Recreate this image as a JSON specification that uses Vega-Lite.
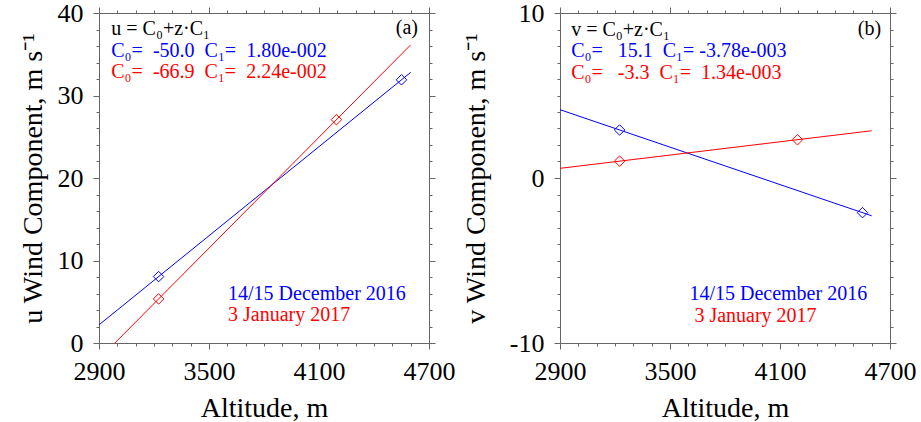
{
  "$schema": "https://vega.github.io/schema/vega-lite/v6.json",
  "background": "white",
  "padding": {"left": 19, "top": 0, "right": 5, "bottom": 0},
  "spacing": 7,
  "config": {
    "view": {"stroke": null},
    "axis": {
      "domainColor": "#666666", "tickColor": "#666666", "grid": false,
      "labelFont": "Liberation Serif", "labelFontSize": 26, "labelColor": "#000000",
      "titleFont": "Liberation Serif", "titleFontSize": 28, "titleFontWeight": "normal", "titleColor": "#000000",
      "labelOverlap": false, "labelFlush": false, "labelBound": false
    },
    "text": {"font": "Liberation Serif", "fontSize": 20}
  },
  "datasets": {
    "uFit": [
      {"date": "14/15 December 2016", "alt": 2900, "u": 2.2},
      {"date": "14/15 December 2016", "alt": 4600, "u": 32.8},
      {"date": "3 January 2017", "alt": 2900, "u": -1.94},
      {"date": "3 January 2017", "alt": 4600, "u": 36.14}
    ],
    "uPts": [
      {"date": "14/15 December 2016", "alt": 3225, "u": 8.05},
      {"date": "14/15 December 2016", "alt": 4550, "u": 31.9},
      {"date": "3 January 2017", "alt": 3225, "u": 5.34},
      {"date": "3 January 2017", "alt": 4195, "u": 27.07}
    ],
    "vFit": [
      {"date": "14/15 December 2016", "alt": 2900, "v": 4.14},
      {"date": "14/15 December 2016", "alt": 4600, "v": -2.29},
      {"date": "3 January 2017", "alt": 2900, "v": 0.586},
      {"date": "3 January 2017", "alt": 4600, "v": 2.864}
    ],
    "vPts": [
      {"date": "14/15 December 2016", "alt": 3225, "v": 2.91},
      {"date": "14/15 December 2016", "alt": 4550, "v": -2.1},
      {"date": "3 January 2017", "alt": 3225, "v": 1.02},
      {"date": "3 January 2017", "alt": 4195, "v": 2.32}
    ],
    "one": [{}]
  },
  "hconcat": [
    {
      "width": 330, "height": 330,
      "resolve": {"axis": {"x": "independent", "y": "independent"}},
      "layer": [
        {
          "data": {"name": "uFit"},
          "mark": {"type": "line", "clip": true, "strokeWidth": 1},
          "encoding": {
            "x": {"field": "alt", "type": "quantitative",
              "scale": {"domain": [2900, 4700], "nice": false},
              "axis": {"orient": "bottom", "title": "Altitude, m", "values": [2900,3000,3100,3200,3300,3400,3500,3600,3700,3800,3900,4000,4100,4200,4300,4400,4500,4600,4700],
                "labelExpr": "(datum.value - 2900) % 600 === 0 ? '' + datum.value : ''",
                "tickSize": {"condition": {"test": "(datum.value - 2900) % 600 === 0", "value": 6}, "value": 3},
                "labelPadding": 9.5, "titlePadding": 10}},
            "y": {"field": "u", "type": "quantitative",
              "scale": {"domain": [0, 40], "nice": false},
              "axis": {"orient": "left", "title": "u Wind Component, m s⁻¹", "values": [0,2,4,6,8,10,12,14,16,18,20,22,24,26,28,30,32,34,36,38,40],
                "labelExpr": "datum.value % 10 === 0 ? '' + datum.value : ''",
                "tickSize": {"condition": {"test": "datum.value % 10 === 0", "value": 6}, "value": 3},
                "labelPadding": 10, "titlePadding": 10}},
            "color": {"field": "date", "type": "nominal", "scale": {"domain": ["14/15 December 2016", "3 January 2017"], "range": ["#0000ff", "#ff0000"]}, "legend": null},
            "detail": {"field": "date"}
          }
        },
        {
          "data": {"name": "uPts"},
          "mark": {"type": "point", "shape": "diamond", "filled": false, "size": 110, "strokeWidth": 1, "opacity": 1},
          "encoding": {
            "x": {"field": "alt", "type": "quantitative",
              "scale": {"domain": [2900, 4700], "nice": false},
              "axis": {"orient": "top", "title": null, "labels": false, "values": [2900,3000,3100,3200,3300,3400,3500,3600,3700,3800,3900,4000,4100,4200,4300,4400,4500,4600,4700],
                "tickSize": {"condition": {"test": "(datum.value - 2900) % 600 === 0", "value": 6}, "value": 3}}},
            "y": {"field": "u", "type": "quantitative",
              "scale": {"domain": [0, 40], "nice": false},
              "axis": {"orient": "right", "title": null, "labels": false, "values": [0,2,4,6,8,10,12,14,16,18,20,22,24,26,28,30,32,34,36,38,40],
                "tickSize": {"condition": {"test": "datum.value % 10 === 0", "value": 6}, "value": 3}}},
            "color": {"field": "date", "type": "nominal", "legend": null}
          }
        },
        {
          "data": {"name": "one"},
          "mark": {"type": "text", "align": "left", "baseline": "alphabetic", "color": "#000000"},
          "encoding": {"x": {"datum": 2967, "type": "quantitative", "axis": null}, "y": {"datum": 37.3, "type": "quantitative", "axis": null}, "text": {"value": "u = C₀+z·C₁"}}
        },
        {
          "data": {"name": "one"},
          "mark": {"type": "text", "align": "left", "baseline": "alphabetic", "color": "#0000ff"},
          "encoding": {"x": {"datum": 2967, "type": "quantitative", "axis": null}, "y": {"datum": 34.7, "type": "quantitative", "axis": null}, "text": {"value": "C₀=\u00a0\u00a0-50.0\u00a0\u00a0C₁=\u00a0\u00a01.80e-002"}}
        },
        {
          "data": {"name": "one"},
          "mark": {"type": "text", "align": "left", "baseline": "alphabetic", "color": "#ff0000"},
          "encoding": {"x": {"datum": 2967, "type": "quantitative", "axis": null}, "y": {"datum": 32.1, "type": "quantitative", "axis": null}, "text": {"value": "C₀=\u00a0\u00a0-66.9\u00a0\u00a0C₁=\u00a0\u00a02.24e-002"}}
        },
        {
          "data": {"name": "one"},
          "mark": {"type": "text", "align": "right", "baseline": "alphabetic", "color": "#000000"},
          "encoding": {"x": {"datum": 4640, "type": "quantitative", "axis": null}, "y": {"datum": 37.4, "type": "quantitative", "axis": null}, "text": {"value": "(a)"}}
        },
        {
          "data": {"name": "one"},
          "mark": {"type": "text", "align": "left", "baseline": "alphabetic", "color": "#0000ff"},
          "encoding": {"x": {"datum": 3604, "type": "quantitative", "axis": null}, "y": {"datum": 5.27, "type": "quantitative", "axis": null}, "text": {"value": "14/15 December 2016"}}
        },
        {
          "data": {"name": "one"},
          "mark": {"type": "text", "align": "left", "baseline": "alphabetic", "color": "#ff0000"},
          "encoding": {"x": {"datum": 3604, "type": "quantitative", "axis": null}, "y": {"datum": 2.64, "type": "quantitative", "axis": null}, "text": {"value": "3 January 2017"}}
        }
      ]
    },
    {
      "width": 330, "height": 330,
      "resolve": {"axis": {"x": "independent", "y": "independent"}},
      "layer": [
        {
          "data": {"name": "vFit"},
          "mark": {"type": "line", "clip": true, "strokeWidth": 1},
          "encoding": {
            "x": {"field": "alt", "type": "quantitative",
              "scale": {"domain": [2900, 4700], "nice": false},
              "axis": {"orient": "bottom", "title": "Altitude, m", "values": [2900,3000,3100,3200,3300,3400,3500,3600,3700,3800,3900,4000,4100,4200,4300,4400,4500,4600,4700],
                "labelExpr": "(datum.value - 2900) % 600 === 0 ? '' + datum.value : ''",
                "tickSize": {"condition": {"test": "(datum.value - 2900) % 600 === 0", "value": 6}, "value": 3},
                "labelPadding": 9.5, "titlePadding": 10}},
            "y": {"field": "v", "type": "quantitative",
              "scale": {"domain": [-10, 10], "nice": false},
              "axis": {"orient": "left", "title": "v Wind Component, m s⁻¹", "values": [-10,-9,-8,-7,-6,-5,-4,-3,-2,-1,0,1,2,3,4,5,6,7,8,9,10],
                "labelExpr": "datum.value % 10 === 0 ? '' + datum.value : ''",
                "tickSize": {"condition": {"test": "datum.value % 10 === 0", "value": 6}, "value": 3},
                "labelPadding": 10, "titlePadding": 19}},
            "color": {"field": "date", "type": "nominal", "scale": {"domain": ["14/15 December 2016", "3 January 2017"], "range": ["#0000ff", "#ff0000"]}, "legend": null},
            "detail": {"field": "date"}
          }
        },
        {
          "data": {"name": "vPts"},
          "mark": {"type": "point", "shape": "diamond", "filled": false, "size": 110, "strokeWidth": 1, "opacity": 1},
          "encoding": {
            "x": {"field": "alt", "type": "quantitative",
              "scale": {"domain": [2900, 4700], "nice": false},
              "axis": {"orient": "top", "title": null, "labels": false, "values": [2900,3000,3100,3200,3300,3400,3500,3600,3700,3800,3900,4000,4100,4200,4300,4400,4500,4600,4700],
                "tickSize": {"condition": {"test": "(datum.value - 2900) % 600 === 0", "value": 6}, "value": 3}}},
            "y": {"field": "v", "type": "quantitative",
              "scale": {"domain": [-10, 10], "nice": false},
              "axis": {"orient": "right", "title": null, "labels": false, "values": [-10,-9,-8,-7,-6,-5,-4,-3,-2,-1,0,1,2,3,4,5,6,7,8,9,10],
                "tickSize": {"condition": {"test": "datum.value % 10 === 0", "value": 6}, "value": 3}}},
            "color": {"field": "date", "type": "nominal", "legend": null}
          }
        },
        {
          "data": {"name": "one"},
          "mark": {"type": "text", "align": "left", "baseline": "alphabetic", "color": "#000000"},
          "encoding": {"x": {"datum": 2961, "type": "quantitative", "axis": null}, "y": {"datum": 8.62, "type": "quantitative", "axis": null}, "text": {"value": "v = C₀+z·C₁"}}
        },
        {
          "data": {"name": "one"},
          "mark": {"type": "text", "align": "left", "baseline": "alphabetic", "color": "#0000ff"},
          "encoding": {"x": {"datum": 2961, "type": "quantitative", "axis": null}, "y": {"datum": 7.31, "type": "quantitative", "axis": null}, "text": {"value": "C₀=\u00a0\u00a0\u00a015.1\u00a0\u00a0C₁=\u00a0-3.78e-003"}}
        },
        {
          "data": {"name": "one"},
          "mark": {"type": "text", "align": "left", "baseline": "alphabetic", "color": "#ff0000"},
          "encoding": {"x": {"datum": 2961, "type": "quantitative", "axis": null}, "y": {"datum": 5.99, "type": "quantitative", "axis": null}, "text": {"value": "C₀=\u00a0\u00a0\u00a0-3.3\u00a0\u00a0C₁=\u00a0\u00a01.34e-003"}}
        },
        {
          "data": {"name": "one"},
          "mark": {"type": "text", "align": "right", "baseline": "alphabetic", "color": "#000000"},
          "encoding": {"x": {"datum": 4652, "type": "quantitative", "axis": null}, "y": {"datum": 8.65, "type": "quantitative", "axis": null}, "text": {"value": "(b)"}}
        },
        {
          "data": {"name": "one"},
          "mark": {"type": "text", "align": "left", "baseline": "alphabetic", "color": "#0000ff"},
          "encoding": {"x": {"datum": 3606, "type": "quantitative", "axis": null}, "y": {"datum": -7.39, "type": "quantitative", "axis": null}, "text": {"value": "14/15 December 2016"}}
        },
        {
          "data": {"name": "one"},
          "mark": {"type": "text", "align": "left", "baseline": "alphabetic", "color": "#ff0000"},
          "encoding": {"x": {"datum": 3633, "type": "quantitative", "axis": null}, "y": {"datum": -8.71, "type": "quantitative", "axis": null}, "text": {"value": "3 January 2017"}}
        }
      ]
    }
  ]
}
